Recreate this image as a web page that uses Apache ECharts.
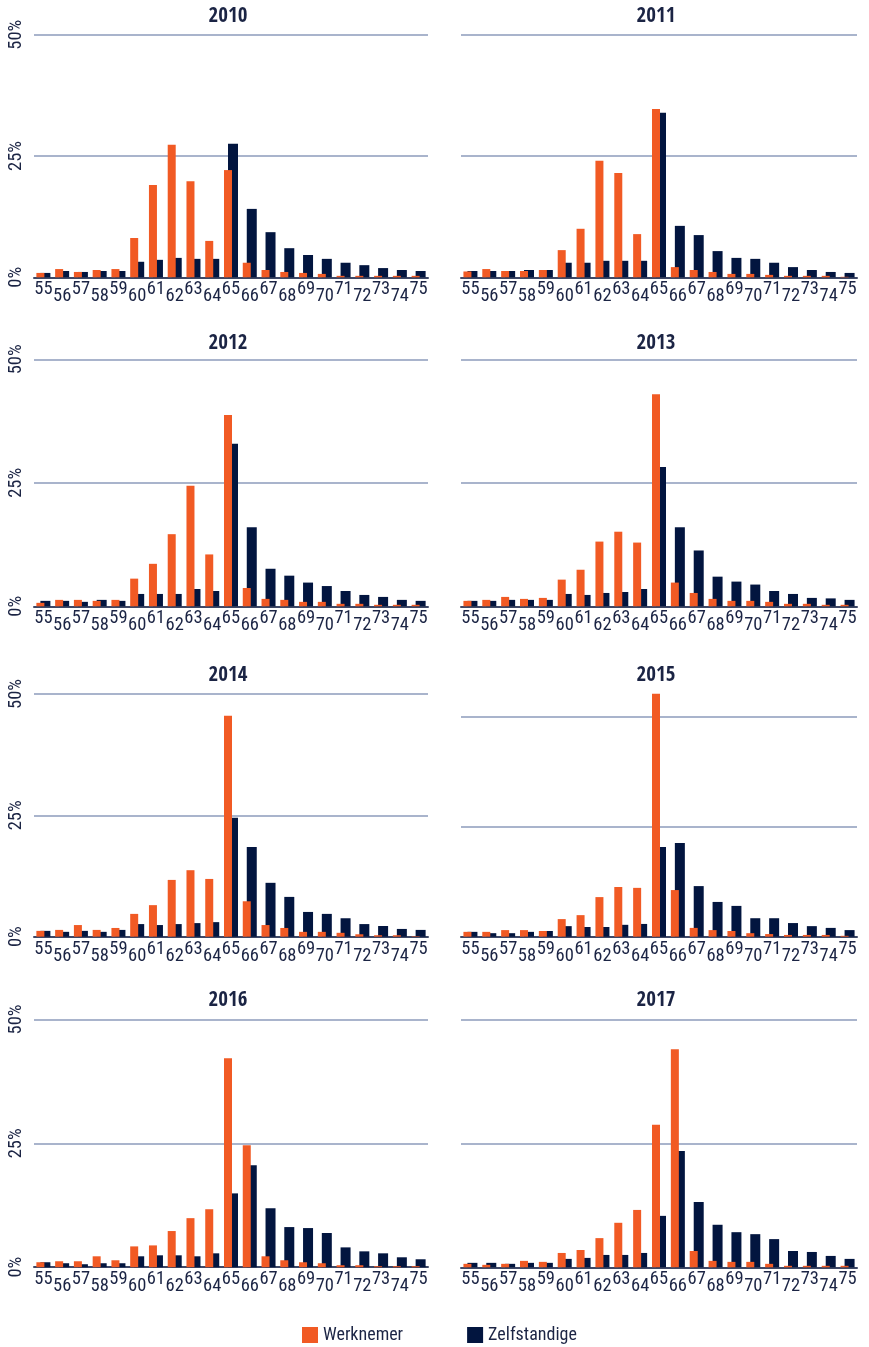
<!DOCTYPE html>
<html><head><meta charset="utf-8">
<script src="https://cdn.jsdelivr.net/npm/echarts@6/dist/echarts.min.js"></script>
<style>html,body{margin:0;padding:0;background:#fff}#c{width:869px;height:1347px}</style>
</head><body><div id="c"></div>
<script>
const ages = ['55','56','57','58','59','60','61','62','63','64','65','66','67','68','69','70','71','72','73','74','75'];
const years = ['2010','2011','2012','2013','2014','2015','2016','2017'];
const seriesNames = ['Werknemer','Zelfstandige'];
const yTickStep = 25;

const werknemer2010 = [0.9,1.7,1.1,1.5,1.7,8.1,19.0,27.3,19.8,7.5,22.1,3.0,1.5,1.1,0.9,0.7,0.3,0.3,0.3,0.3,0.3];
const zelfstandige2010 = [0.9,1.3,1.1,1.3,1.3,3.2,3.6,4.0,3.8,3.8,27.5,14.1,9.3,6.0,4.6,3.8,3.0,2.5,1.9,1.5,1.3];
const werknemer2011 = [1.2,1.7,1.3,1.3,1.5,5.6,10.0,24.0,21.5,8.9,34.7,2.1,1.5,1.1,0.7,0.7,0.5,0.3,0.3,0.3,0.1];
const zelfstandige2011 = [1.3,1.3,1.3,1.5,1.5,3.0,3.0,3.4,3.4,3.4,33.9,10.6,8.7,5.4,4.0,3.8,3.0,2.1,1.5,1.1,0.9];
const werknemer2012 = [0.7,1.3,1.3,1.1,1.3,5.6,8.6,14.6,24.4,10.5,38.7,3.7,1.5,1.3,0.9,0.9,0.5,0.5,0.3,0.3,0.3];
const zelfstandige2012 = [1.1,1.1,0.9,1.3,1.1,2.5,2.5,2.5,3.5,3.1,32.9,16.0,7.6,6.2,4.8,4.1,3.1,2.3,1.9,1.3,1.1];
const werknemer2013 = [1.1,1.3,1.9,1.5,1.7,5.4,7.4,13.1,15.1,12.9,42.9,4.8,2.7,1.5,1.1,1.1,0.9,0.5,0.5,0.3,0.3];
const zelfstandige2013 = [1.1,1.1,1.3,1.3,1.3,2.5,2.3,2.7,2.9,3.5,28.2,16.0,11.3,6.0,5.0,4.4,3.1,2.5,1.7,1.6,1.3];
const werknemer2014 = [1.2,1.4,2.4,1.4,1.8,4.7,6.5,11.7,13.7,11.9,45.5,7.3,2.4,1.8,1.0,1.0,0.8,0.5,0.3,0.3,0.1];
const zelfstandige2014 = [1.2,1.0,1.2,1.0,1.4,2.6,2.4,2.6,2.8,3.0,24.5,18.5,11.1,8.2,5.1,4.7,3.8,2.6,2.2,1.6,1.4];
const werknemer2015 = [1.1,1.1,1.5,1.5,1.3,4.0,4.9,9.0,11.3,11.1,55.2,10.6,2.0,1.5,1.3,0.8,0.6,0.4,0.4,0.4,0.2];
const zelfstandige2015 = [1.1,0.8,0.8,1.1,1.3,2.4,2.2,2.2,2.7,2.9,20.4,21.3,11.5,7.9,7.0,4.2,4.2,3.1,2.4,2.0,1.5];
const werknemer2016 = [1.0,1.2,1.2,2.2,1.4,4.2,4.4,7.3,9.9,11.7,42.2,24.6,2.2,1.4,1.0,0.8,0.4,0.4,0.2,0.2,0.2];
const zelfstandige2016 = [1.0,0.8,0.6,0.8,0.8,2.2,2.4,2.4,2.2,2.8,14.9,20.6,11.9,8.1,7.9,6.9,4.0,3.2,2.8,2.0,1.6];
const werknemer2017 = [0.7,0.5,0.7,1.3,1.1,2.9,3.5,5.9,9.0,11.6,28.8,44.1,3.3,1.3,1.1,1.1,0.7,0.3,0.3,0.3,0.3];
const zelfstandige2017 = [0.9,0.9,0.7,0.9,0.9,1.7,1.9,2.5,2.5,2.9,10.4,23.5,13.2,8.6,7.1,6.7,5.7,3.3,3.1,2.3,1.7];

const W = [werknemer2010,werknemer2011,werknemer2012,werknemer2013,werknemer2014,werknemer2015,werknemer2016,werknemer2017];
const Z = [zelfstandige2010,zelfstandige2011,zelfstandige2012,zelfstandige2013,zelfstandige2014,zelfstandige2015,zelfstandige2016,zelfstandige2017];

// layout (positions only)
const FONT = "'Roboto Condensed','DejaVu Sans Condensed',sans-serif";
const TFONT = "'Open Sans Condensed','Roboto Condensed',sans-serif";
const TXT = '#1b2444';
const ORANGE = '#F15A24';
const NAVY = '#02153F';
const GRIDC = '#A9B4CC';
const AXISC = '#3E4866';
const cols = [{left: 34, width: 394, cx: 228}, {left: 461, width: 396, cx: 656}];
const rows = [
  [{top: 34.7, height: 242.6, max: 50, ty: 16.7}, {top: 34.7, height: 242.6, max: 50, ty: 16.7}],
  [{top: 359.3, height: 247, max: 50, ty: 343.5}, {top: 359.3, height: 247, max: 50, ty: 343.5}],
  [{top: 694, height: 242.7, max: 50, ty: 676}, {top: 672.7, height: 264, max: 60, ty: 676}],
  [{top: 1019.5, height: 247.7, max: 50, ty: 1001}, {top: 1020, height: 247.3, max: 50, ty: 1001}]
];

const grid = [], xAxis = [], yAxis = [], series = [], graphic = [];
years.forEach((yr, i) => {
  const r = Math.floor(i / 2), c = i % 2;
  const L = rows[r][c], C = cols[c];
  grid.push({left: C.left, width: C.width, top: L.top, height: L.height, containLabel: false});
  xAxis.push({
    type: 'category', gridIndex: i, data: ages, boundaryGap: true,
    axisLine: {show: true, lineStyle: {color: AXISC, width: 2}},
    axisTick: {show: false},
    axisLabel: {
      interval: 0, margin: 3, hideOverlap: false,
      formatter: (v, idx) => (idx % 2 ? '{lo|' + v + '}' : '{hi|' + v + '}'),
      rich: {
        hi: {fontFamily: FONT, fontSize: 18.5, color: TXT},
        lo: {fontFamily: FONT, fontSize: 18.5, color: TXT, padding: [7, 0, 0, 0]}
      }
    }
  });
  const sc = L.max === 50 ? [GRIDC, GRIDC, GRIDC] : [GRIDC, GRIDC, GRIDC, 'rgba(0,0,0,0)'];
  yAxis.push({
    type: 'value', gridIndex: i, min: 0, max: L.max, interval: yTickStep,
    axisLine: {show: false}, axisTick: {show: false},
    splitLine: {show: true, lineStyle: {color: sc, width: 2}},
    axisLabel: {
      show: c === 0, rotate: 90, margin: 8, formatter: '{value}%',
      fontFamily: FONT, fontSize: 18.5, color: TXT
    }
  });
  series.push({
    name: seriesNames[0], type: 'bar', xAxisIndex: i, yAxisIndex: i,
    data: W[i], barWidth: 8, barGap: '-50%', z: 3,
    itemStyle: {color: ORANGE}, emphasis: {disabled: true}
  });
  series.push({
    name: seriesNames[1], type: 'bar', xAxisIndex: i, yAxisIndex: i,
    data: Z[i], barWidth: 10, barGap: '-50%', z: 2,
    itemStyle: {color: NAVY}, emphasis: {disabled: true}
  });
  graphic.push({
    type: 'text', x: C.cx, y: L.ty,
    style: {text: yr, textAlign: 'center', textVerticalAlign: 'middle',
      font: "bold 21px " + TFONT, fill: TXT}
  });
});

const chart = echarts.init(document.getElementById('c'), null, {renderer: 'canvas'});
chart.setOption({
  animation: false,
  backgroundColor: '#ffffff',
  grid, xAxis, yAxis, series, graphic,
  legend: {
    data: seriesNames, left: 302, top: 1326, padding: 0, itemWidth: 16, itemHeight: 16, itemGap: 64,
    icon: 'rect', selectedMode: false,
    textStyle: {fontFamily: FONT, fontSize: 18, color: TXT}
  }
});
</script></body></html>
